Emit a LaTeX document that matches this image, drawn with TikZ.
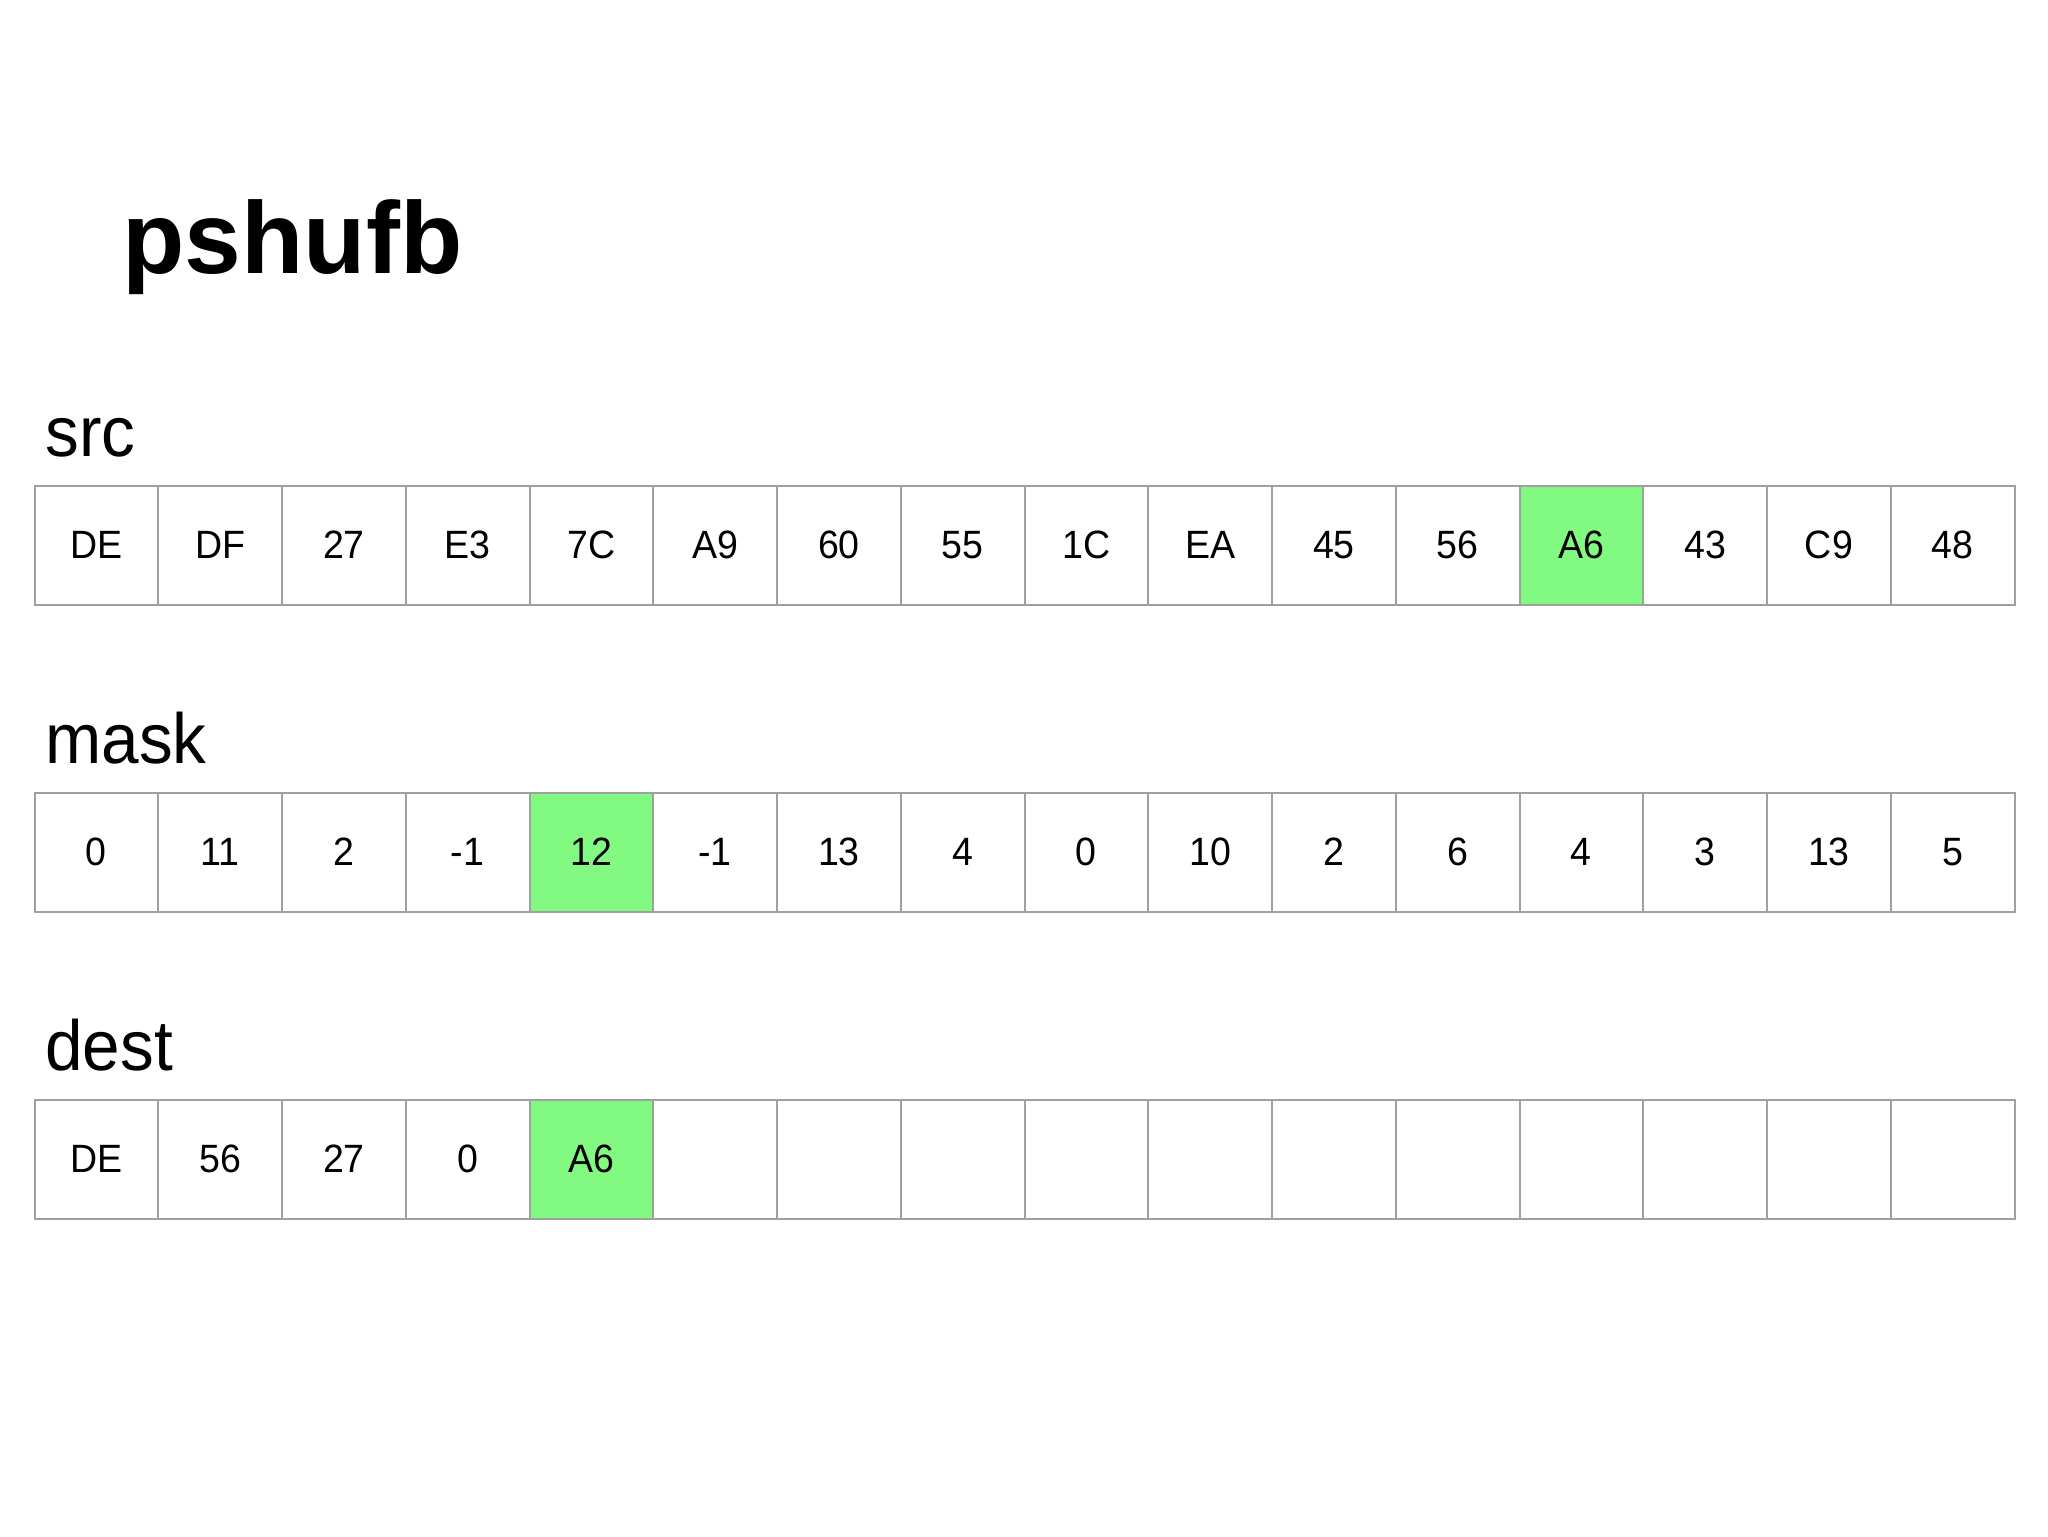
\documentclass[tikz,border=0pt]{standalone}
\usepackage{fontspec}
\setmainfont{Liberation Sans}[FakeStretch=0.95]
\newfontfamily\titlefont{Liberation Sans}
\definecolor{cellgreen}{RGB}{130,250,130}
\definecolor{cellline}{RGB}{160,160,160}
\begin{document}
\begin{tikzpicture}[x=0.5pt,y=-0.5pt,
  cell/.style={draw=cellline, line width=1pt, minimum width=61.875pt, minimum height=59.5pt,
    inner sep=0pt, anchor=north west, font=\fontsize{19.75}{20}\selectfont},
  hl/.style={fill=cellgreen},
  lab/.style={anchor=base west, inner sep=0pt, font=\fontsize{35.5}{36}\selectfont},
  ttl/.style={anchor=base west, inner sep=0pt, font=\titlefont\fontsize{51}{52}\selectfont\bfseries}]
\fill[white] (0,0) rectangle (2048,1536);
\useasboundingbox (0,0) rectangle (2048,1536);
\node[ttl] (title) at (122,273.5) {pshufb};
\node[lab] (srclab) at (45,456) {src};
\node[lab] (masklab) at (45,763) {mask};
\node[lab] (destlab) at (45,1070) {dest};
\foreach \t/\o [count=\i from 0] in {DE/,DF/,27/,E3/,7C/,A9/,60/,55/,1C/,EA/,45/,56/,A6/hl,43/,C9/,48/}
  \node[cell,\o] (s\i) at ({33.5+123.75*\i},484.5) {\t};
\foreach \t/\o [count=\i from 0] in {0/,11/,2/,-1/,12/hl,-1/,13/,4/,0/,10/,2/,6/,4/,3/,13/,5/}
  \node[cell,\o] (m\i) at ({33.5+123.75*\i},791.5) {\t};
\foreach \t/\o [count=\i from 0] in {DE/,56/,27/,0/,A6/hl}
  \node[cell,\o] (d\i) at ({33.5+123.75*\i},1098.5) {\t};
\foreach \i in {5,...,15}
  \node[cell] (d\i) at ({33.5+123.75*\i},1098.5) {};
\end{tikzpicture}
\end{document}
